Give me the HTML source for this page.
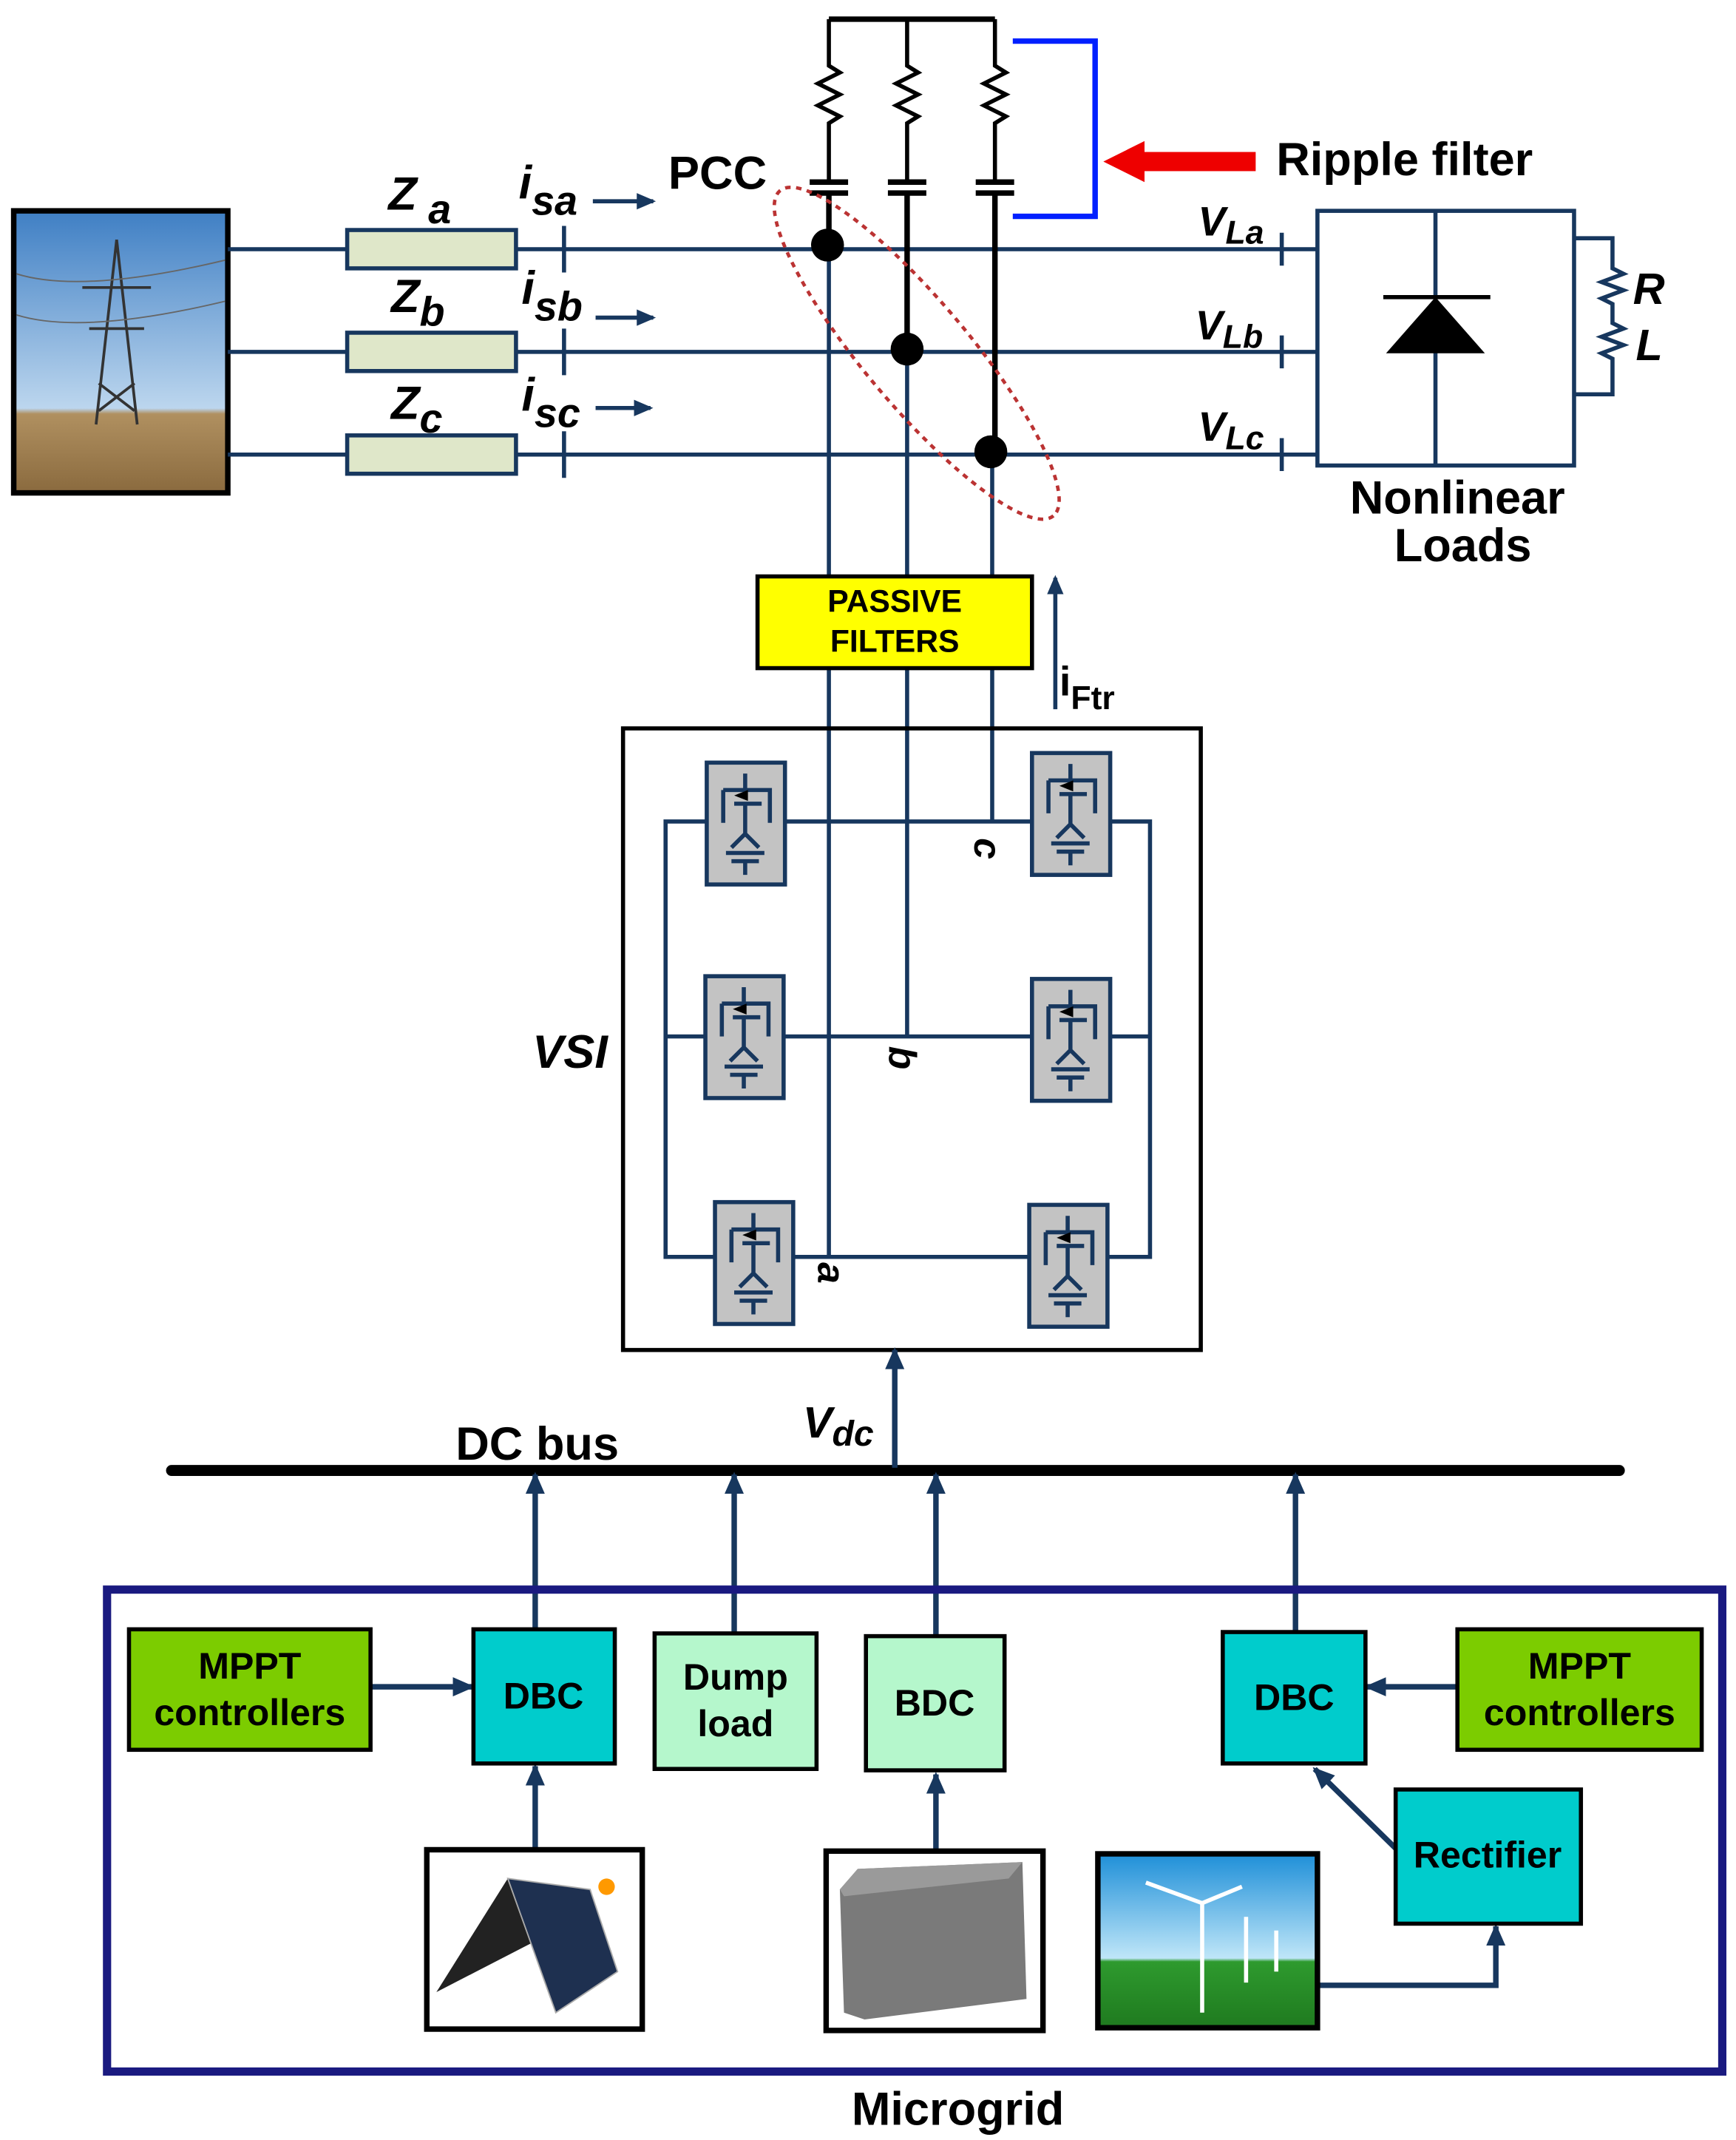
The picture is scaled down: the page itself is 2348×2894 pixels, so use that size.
<!DOCTYPE html>
<html><head><meta charset="utf-8"><style>
html,body{margin:0;padding:0;background:#fff;}
svg{display:block;}
text{font-family:"Liberation Sans",Arial,sans-serif;font-weight:bold;}
</style></head><body>
<svg width="2348" height="2894" viewBox="0 0 1265 1563" preserveAspectRatio="none" xmlns="http://www.w3.org/2000/svg">
<defs>
<marker id="ah" markerWidth="14" markerHeight="12" refX="12" refY="6" orient="auto" markerUnits="userSpaceOnUse"><path d="M0,0 L14,6 L0,12 z" fill="#17375e"/></marker>
<marker id="ahb" markerWidth="16" markerHeight="16" refX="14" refY="8" orient="auto" markerUnits="userSpaceOnUse"><path d="M0,1 L16,8 L0,15 z" fill="#17375e"/></marker>
<linearGradient id="sky" x1="0" y1="0" x2="0" y2="1"><stop offset="0" stop-color="#3f7fc4"/><stop offset="0.7" stop-color="#bcd6ee"/><stop offset="0.72" stop-color="#b09060"/><stop offset="1" stop-color="#8a6a3e"/></linearGradient>
<linearGradient id="wsky" x1="0" y1="0" x2="0" y2="1"><stop offset="0" stop-color="#1e8fd8"/><stop offset="0.6" stop-color="#bfe6f8"/><stop offset="0.62" stop-color="#2e9a2e"/><stop offset="1" stop-color="#1f7a1f"/></linearGradient>
<g id="igbt">
<rect x="0" y="0" width="57" height="89" fill="#c3c3c3" stroke="#17375e" stroke-width="3"/>
<path d="M28,8 V20 M12,20 H46 V44 M12,20 V44 M20,30 H40 M28,30 V52 L18,62 M28,52 L38,62 M14,66 H42 M18,72 H38 M28,72 V82" stroke="#17375e" stroke-width="3" fill="none"/>
<path d="M20,24 L30,20 L30,28 z" fill="#000"/>
</g>
<path id="res" d="M0,0 V34 l8,5 l-16,8 l16,8 l-16,8 l16,8 l-8,5 V118" stroke="#000" stroke-width="3" fill="none"/>
</defs>

<rect x="10" y="154" width="156" height="206" fill="url(#sky)" stroke="#000" stroke-width="4"/>
<path d="M85,175 L70,310 M85,175 L100,310 M60,210 H110 M65,240 H105 M72,280 L98,300 M98,280 L72,300" stroke="#333" stroke-width="2" fill="none"/>
<path d="M12,200 Q60,215 164,190 M12,230 Q60,245 164,220" stroke="#666" stroke-width="1" fill="none"/>

<g stroke="#17375e" stroke-width="3">
<line x1="166" y1="182" x2="960" y2="182"/>
<line x1="166" y1="257" x2="960" y2="257"/>
<line x1="166" y1="332" x2="960" y2="332"/>
<line x1="411" y1="165" x2="411" y2="199"/><line x1="411" y1="240" x2="411" y2="274"/><line x1="411" y1="315" x2="411" y2="349"/>
<line x1="934" y1="170" x2="934" y2="194"/><line x1="934" y1="245" x2="934" y2="269"/><line x1="934" y1="320" x2="934" y2="344"/>
</g>
<g fill="#dfe7c9" stroke="#17375e" stroke-width="3">
<rect x="253" y="168" width="123" height="28"/><rect x="253" y="243" width="123" height="28"/><rect x="253" y="318" width="123" height="28"/>
</g>
<g font-style="italic" font-size="34" fill="#000">
<text x="283" y="153">Z<tspan font-size="30" dy="10"> a</tspan></text>
<text x="285" y="228">Z<tspan font-size="30" dy="10">b</tspan></text>
<text x="285" y="306">Z<tspan font-size="30" dy="10">c</tspan></text>
<text x="378" y="145">i<tspan font-size="30" dy="12">sa</tspan></text>
<text x="380" y="222">i<tspan font-size="30" dy="12">sb</tspan></text>
<text x="380" y="300">i<tspan font-size="30" dy="12">sc</tspan></text>
<text x="873" y="172" font-size="30">V<tspan font-size="24" dy="6">La</tspan></text>
<text x="871" y="248" font-size="30">V<tspan font-size="24" dy="6">Lb</tspan></text>
<text x="873" y="322" font-size="30">V<tspan font-size="24" dy="6">Lc</tspan></text>
</g>
<g stroke="#17375e" stroke-width="3" marker-end="url(#ah)">
<line x1="432" y1="147" x2="476" y2="147"/><line x1="434" y1="232" x2="476" y2="232"/><line x1="434" y1="298" x2="474" y2="298"/>
</g>
<text x="487" y="138" font-size="34">PCC</text>

<line x1="604" y1="14" x2="725" y2="14" stroke="#000" stroke-width="4"/>
<use href="#res" x="604" y="14"/><use href="#res" x="661" y="14"/><use href="#res" x="725" y="14"/>
<g stroke="#000" stroke-width="4">
<line x1="590" y1="133" x2="618" y2="133"/><line x1="590" y1="141" x2="618" y2="141"/>
<line x1="647" y1="133" x2="675" y2="133"/><line x1="647" y1="141" x2="675" y2="141"/>
<line x1="711" y1="133" x2="739" y2="133"/><line x1="711" y1="141" x2="739" y2="141"/>
<line x1="604" y1="141" x2="604" y2="180"/><line x1="661" y1="141" x2="661" y2="255"/><line x1="725" y1="141" x2="725" y2="330"/>
</g>
<g stroke="#17375e" stroke-width="3">
<line x1="604" y1="180" x2="604" y2="918"/><line x1="661" y1="255" x2="661" y2="757"/><line x1="723" y1="330" x2="723" y2="600"/>
</g>
<g fill="#000"><circle cx="603" cy="179" r="12"/><circle cx="661" cy="255" r="12"/><circle cx="722" cy="330" r="12"/></g>
<ellipse cx="668" cy="258" rx="155" ry="38" transform="rotate(50 668 258)" fill="none" stroke="#b33" stroke-width="2.5" stroke-dasharray="4,4"/>
<path d="M738,30 H798 V158 H738" stroke="#0020ff" stroke-width="4" fill="none"/>
<rect x="830" y="111" width="85" height="14" fill="#e00"/>
<path d="M804,118 L834,103 L834,133 z" fill="#e00"/>
<text x="930" y="128" font-size="34">Ripple filter</text>

<rect x="960" y="154" width="187" height="186" fill="none" stroke="#17375e" stroke-width="3"/>
<line x1="1046" y1="154" x2="1046" y2="340" stroke="#17375e" stroke-width="3"/>
<path d="M1010,258 L1046,217 L1082,258 z" fill="#000"/>
<line x1="1008" y1="217" x2="1086" y2="217" stroke="#000" stroke-width="3"/>
<path d="M1147,174 H1175 V196 l8,4 l-16,6 l16,6 l-16,6 l8,4 V236 l8,4 l-16,6 l16,6 l-16,6 l8,4 V288 H1147" stroke="#17375e" stroke-width="3" fill="none"/>
<text x="1190" y="222" font-size="32" font-style="italic">R</text>
<text x="1192" y="263" font-size="32" font-style="italic">L</text>
<text x="1062" y="375" font-size="34" text-anchor="middle">Nonlinear</text>
<text x="1066" y="410" font-size="34" text-anchor="middle">Loads</text>

<rect x="552" y="421" width="200" height="67" fill="#ffff00" stroke="#000" stroke-width="3"/>
<text x="652" y="447" font-size="23" text-anchor="middle">PASSIVE</text>
<text x="652" y="476" font-size="23" text-anchor="middle">FILTERS</text>
<line x1="769" y1="518" x2="769" y2="422" stroke="#17375e" stroke-width="3" marker-end="url(#ah)"/>
<text x="772" y="508" font-size="30">i<tspan font-size="24" dy="10">Ftr</tspan></text>

<rect x="454" y="532" width="421" height="454" fill="none" stroke="#000" stroke-width="3"/>
<g stroke="#17375e" stroke-width="3" fill="none">
<path d="M515,600 H485 V918 H521"/><path d="M809,600 H838 V918 H807"/>
<line x1="572" y1="600" x2="752" y2="600"/>
<line x1="485" y1="757" x2="514" y2="757"/><line x1="571" y1="757" x2="752" y2="757"/><line x1="809" y1="757" x2="838" y2="757"/>
<line x1="578" y1="918" x2="750" y2="918"/>
</g>
<use href="#igbt" x="515" y="557"/><use href="#igbt" x="752" y="550"/>
<use href="#igbt" x="514" y="713"/><use href="#igbt" x="752" y="715"/>
<use href="#igbt" x="521" y="878"/><use href="#igbt" x="750" y="880"/>
<text x="0" y="0" font-size="28" font-style="italic" transform="translate(710,612) rotate(90)">c</text>
<text x="0" y="0" font-size="28" font-style="italic" transform="translate(648,764) rotate(90)">b</text>
<text x="0" y="0" font-size="28" font-style="italic" transform="translate(596,922) rotate(90)">a</text>
<text x="388" y="780" font-size="34" font-style="italic">VSI</text>

<line x1="125" y1="1074" x2="1180" y2="1074" stroke="#000" stroke-width="8" stroke-linecap="round"/>
<text x="332" y="1066" font-size="34">DC bus</text>
<text x="585" y="1050" font-size="32" font-style="italic">V<tspan font-size="26" dy="6">dc</tspan></text>
<g stroke="#17375e" stroke-width="4" marker-end="url(#ahb)">
<line x1="652" y1="1072" x2="652" y2="986"/>
<line x1="390" y1="1190" x2="390" y2="1077"/>
<line x1="535" y1="1193" x2="535" y2="1077"/>
<line x1="682" y1="1195" x2="682" y2="1077"/>
<line x1="944" y1="1192" x2="944" y2="1077"/>
<line x1="270" y1="1232" x2="344" y2="1232"/>
<line x1="1062" y1="1232" x2="996" y2="1232"/>
<line x1="390" y1="1350" x2="390" y2="1290"/>
<line x1="682" y1="1352" x2="682" y2="1296"/>
<line x1="1017" y1="1350" x2="958" y2="1292"/>
</g>
<path d="M960,1450 H1090 V1407" stroke="#17375e" stroke-width="4" fill="none" marker-end="url(#ahb)"/>

<rect x="78" y="1161" width="1177" height="352" fill="none" stroke="#1a1a80" stroke-width="6"/>
<g stroke="#000" stroke-width="3">
<rect x="94" y="1190" width="176" height="88" fill="#7ccc00"/>
<rect x="345" y="1190" width="103" height="98" fill="#00cccc"/>
<rect x="477" y="1193" width="118" height="99" fill="#b5f7cc"/>
<rect x="631" y="1195" width="101" height="98" fill="#b5f7cc"/>
<rect x="891" y="1192" width="104" height="96" fill="#00cccc"/>
<rect x="1062" y="1190" width="178" height="88" fill="#7ccc00"/>
<rect x="1017" y="1307" width="135" height="98" fill="#00cccc"/>
</g>
<g font-size="27" text-anchor="middle" fill="#000">
<text x="182" y="1226">MPPT</text><text x="182" y="1260">controllers</text>
<text x="396" y="1248">DBC</text>
<text x="536" y="1234">Dump</text><text x="536" y="1268">load</text>
<text x="681" y="1253">BDC</text>
<text x="943" y="1249">DBC</text>
<text x="1151" y="1226">MPPT</text><text x="1151" y="1260">controllers</text>
<text x="1084" y="1364">Rectifier</text>
</g>
<text x="698" y="1552" font-size="34" text-anchor="middle">Microgrid</text>

<rect x="311" y="1351" width="157" height="131" fill="#fff" stroke="#000" stroke-width="4"/>
<path d="M318,1455 L370,1372 L405,1410 Z" fill="#222"/>
<path d="M370,1372 L430,1380 L450,1440 L405,1470 Z" fill="#1e3050" stroke="#aaa" stroke-width="1"/>
<circle cx="442" cy="1378" r="6" fill="#f90"/>
<rect x="602" y="1352" width="158" height="131" fill="#fff" stroke="#000" stroke-width="4"/>
<path d="M612,1380 L625,1365 L745,1360 L748,1460 L630,1475 L615,1470 Z" fill="#7a7a7a"/>
<path d="M612,1380 L625,1365 L745,1360 L735,1372 L615,1385 Z" fill="#9a9a9a"/>
<rect x="800" y="1354" width="160" height="127" fill="url(#wsky)" stroke="#000" stroke-width="4"/>
<g stroke="#fff" stroke-width="3"><line x1="876" y1="1390" x2="876" y2="1470"/><line x1="876" y1="1390" x2="835" y2="1375"/><line x1="876" y1="1390" x2="905" y2="1378"/><line x1="908" y1="1400" x2="908" y2="1448"/><line x1="930" y1="1410" x2="930" y2="1440"/></g>
</svg>
</body></html>
